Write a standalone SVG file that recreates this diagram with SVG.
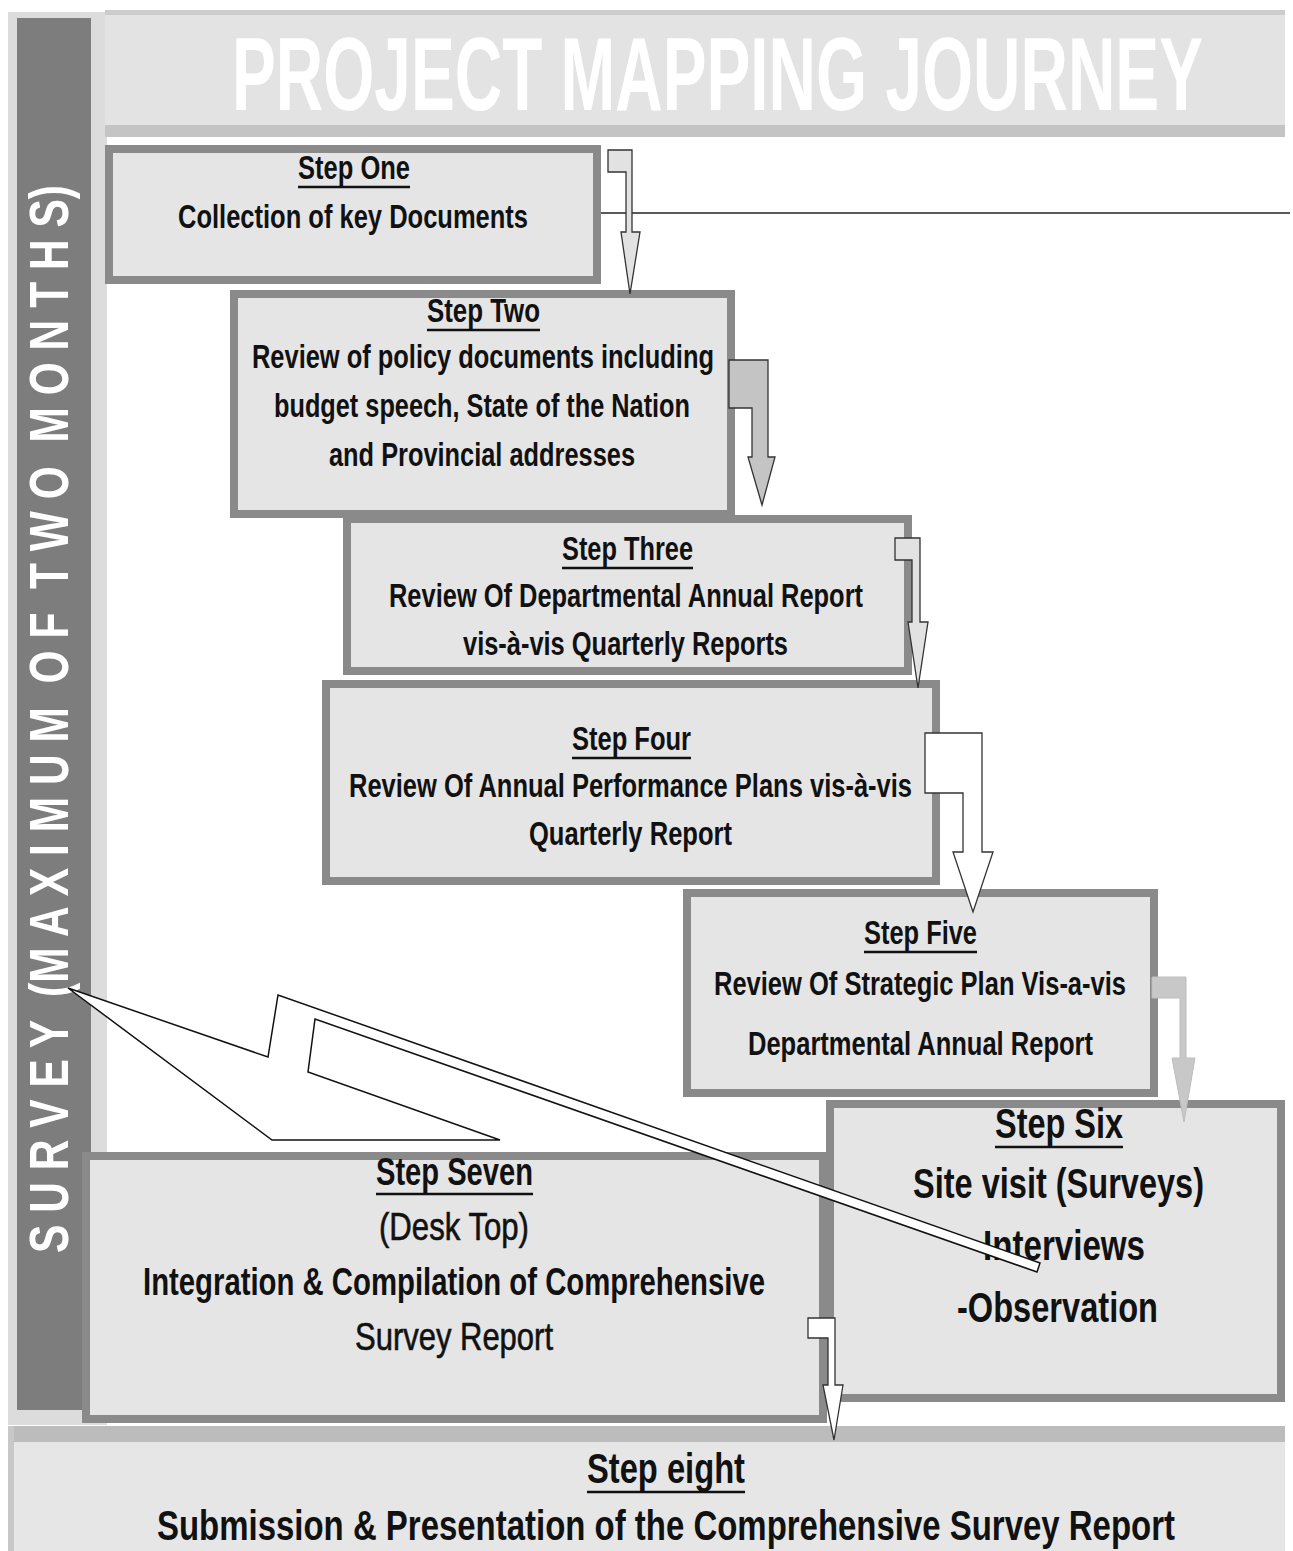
<svg xmlns="http://www.w3.org/2000/svg" width="1293" height="1551" viewBox="0 0 1293 1551">
<style>
.t{font-family:"Liberation Sans",Arial,sans-serif;font-weight:bold;fill:#111;}
.box{fill:#e5e5e5;stroke:#8a8a8a;stroke-width:8;}
.ul{stroke:#111;stroke-width:2.5;}
.arr{stroke:#333;stroke-width:1.3;stroke-linejoin:miter;}
</style>
<rect width="1293" height="1551" fill="#ffffff"/>

<g id="sidebar">
<rect x="8" y="12" width="99" height="1413" fill="#dcdcdc"/>
<rect x="17" y="18" width="74" height="1392" fill="#7d7d7d"/>
<text transform="translate(68,1253) rotate(-90)" x="0" y="0" font-family="Liberation Sans, Arial, sans-serif" font-weight="bold" font-size="55" fill="#ffffff" style="white-space:pre" textLength="1068" lengthAdjust="spacingAndGlyphs">S U R V E Y  (M A X I M U M  O F  T W O  M O N T H S)</text>
</g>

<g id="title">
<rect x="105" y="10" width="1180" height="127" fill="#e3e3e3"/>
<rect x="105" y="10" width="1180" height="5" fill="#cccccc"/>
<rect x="105" y="125" width="1180" height="12" fill="#c4c4c4"/>
<text class="t" x="232" y="110" font-size="104" style="fill:#ffffff" textLength="971" lengthAdjust="spacingAndGlyphs">PROJECT MAPPING JOURNEY</text>
</g>

<g id="step1">
<rect class="box" x="109" y="149" width="488" height="131"/>
<text class="t" x="298" y="179" font-size="34" textLength="112" lengthAdjust="spacingAndGlyphs">Step One</text>
<line class="ul" x1="298" y1="187" x2="410" y2="187"/>
<text class="t" x="178" y="228" font-size="34" textLength="350" lengthAdjust="spacingAndGlyphs">Collection of key Documents</text>
</g>

<g id="step2">
<rect class="box" x="234" y="294" width="497" height="220"/>
<text class="t" x="427" y="322" font-size="34" textLength="113" lengthAdjust="spacingAndGlyphs">Step Two</text>
<line class="ul" x1="427" y1="330" x2="540" y2="330"/>
<text class="t" x="252" y="368" font-size="34" textLength="462" lengthAdjust="spacingAndGlyphs">Review of policy documents including</text>
<text class="t" x="274" y="417" font-size="34" textLength="416" lengthAdjust="spacingAndGlyphs">budget speech, State of the Nation</text>
<text class="t" x="329" y="466" font-size="34" textLength="306" lengthAdjust="spacingAndGlyphs">and Provincial addresses</text>
</g>

<g id="step3">
<rect class="box" x="347" y="519" width="561" height="152"/>
<text class="t" x="562" y="560" font-size="34" textLength="131" lengthAdjust="spacingAndGlyphs">Step Three</text>
<line class="ul" x1="562" y1="568" x2="693" y2="568"/>
<text class="t" x="389" y="607" font-size="34" textLength="474" lengthAdjust="spacingAndGlyphs">Review Of Departmental Annual Report</text>
<text class="t" x="463" y="655" font-size="34" textLength="325" lengthAdjust="spacingAndGlyphs">vis-à-vis Quarterly Reports</text>
</g>

<g id="step4">
<rect class="box" x="326" y="684" width="610" height="197"/>
<text class="t" x="572" y="750" font-size="34" textLength="119" lengthAdjust="spacingAndGlyphs">Step Four</text>
<line class="ul" x1="572" y1="758" x2="691" y2="758"/>
<text class="t" x="349" y="797" font-size="34" textLength="563" lengthAdjust="spacingAndGlyphs">Review Of Annual Performance Plans vis-à-vis</text>
<text class="t" x="529" y="845" font-size="34" textLength="203" lengthAdjust="spacingAndGlyphs">Quarterly Report</text>
</g>

<g id="step5">
<rect class="box" x="687" y="893" width="467" height="200"/>
<text class="t" x="864" y="944" font-size="34" textLength="113" lengthAdjust="spacingAndGlyphs">Step Five</text>
<line class="ul" x1="864" y1="952" x2="977" y2="952"/>
<text class="t" x="714" y="995" font-size="34" textLength="412" lengthAdjust="spacingAndGlyphs">Review Of Strategic Plan Vis-a-vis</text>
<text class="t" x="748" y="1055" font-size="34" textLength="345" lengthAdjust="spacingAndGlyphs">Departmental Annual Report</text>
</g>

<g id="step7">
<rect class="box" x="86" y="1156" width="737" height="263"/>
<text class="t" x="376" y="1185" font-size="38" textLength="157" lengthAdjust="spacingAndGlyphs">Step Seven</text>
<line class="ul" x1="376" y1="1194" x2="533" y2="1194"/>
<text class="t" x="379" y="1240" font-size="38" style="font-weight:normal;stroke:#111;stroke-width:0.6" textLength="150" lengthAdjust="spacingAndGlyphs">(Desk Top)</text>
<text class="t" x="143" y="1295" font-size="38" textLength="622" lengthAdjust="spacingAndGlyphs">Integration &amp; Compilation of Comprehensive</text>
<text class="t" x="355" y="1350" font-size="38" style="font-weight:normal;stroke:#111;stroke-width:0.6" textLength="198" lengthAdjust="spacingAndGlyphs">Survey Report</text>
</g>

<g id="step6">
<rect class="box" x="830" y="1104" width="451" height="294"/>
<text class="t" x="995" y="1138" font-size="43" textLength="128" lengthAdjust="spacingAndGlyphs">Step Six</text>
<line class="ul" x1="995" y1="1147" x2="1123" y2="1147"/>
<text class="t" x="913" y="1198" font-size="43" textLength="291" lengthAdjust="spacingAndGlyphs">Site visit (Surveys)</text>
<text class="t" x="983" y="1260" font-size="43" textLength="162" lengthAdjust="spacingAndGlyphs">Interviews</text>
<text class="t" x="957" y="1322" font-size="43" textLength="201" lengthAdjust="spacingAndGlyphs">-Observation</text>
</g>

<g id="step8">
<rect x="8" y="1426" width="1277" height="125" fill="#e6e6e6"/>
<rect x="8" y="1426" width="1277" height="16" fill="#bcbcbc"/>
<rect x="8" y="1426" width="6" height="125" fill="#c8c8c8"/>
<text class="t" x="587" y="1483" font-size="42" textLength="158" lengthAdjust="spacingAndGlyphs">Step eight</text>
<line class="ul" x1="587" y1="1492" x2="745" y2="1492"/>
<text class="t" x="157" y="1540" font-size="42" textLength="1018" lengthAdjust="spacingAndGlyphs">Submission &amp; Presentation of the Comprehensive Survey Report</text>
</g>

<g id="connectors">
<line x1="601" y1="213" x2="1290" y2="213" stroke="#222" stroke-width="1.5"/>
<polygon class="arr" fill="#e2e2e2" points="608,150 632,150 632,232 640,232 630,294 621,232 626,232 626,172 608,172"/>
<polygon class="arr" fill="#c4c4c4" points="729,360 768,360 768,457 775,457 762,505 748,457 752,457 752,408 729,408"/>
<polygon class="arr" fill="#e2e2e2" points="895,538 920,538 920,622 928,622 918,688 908,622 912,622 912,560 895,560"/>
<polygon class="arr" fill="#ffffff" points="925,733 982,733 982,852 993,852 973,912 953,852 963,852 963,793 925,793"/>
<polygon fill="#c8c8c8" stroke="#bdbdbd" stroke-width="1" points="1152,977 1186,977 1186,1058 1195,1058 1184,1122 1172,1058 1180,1058 1180,998 1152,998"/>
<polygon class="arr" fill="#ffffff" points="808,1318 835,1318 835,1385 843,1385 834,1440 823,1385 828,1385 828,1338 808,1338"/>
<polygon fill="#ffffff" stroke="#111" stroke-width="1.5" stroke-linejoin="miter" points="68,988 268,1057 278,995 1040,1263 1037,1272 315,1019 308,1072 500,1140 272,1140"/>
</g>
</svg>
